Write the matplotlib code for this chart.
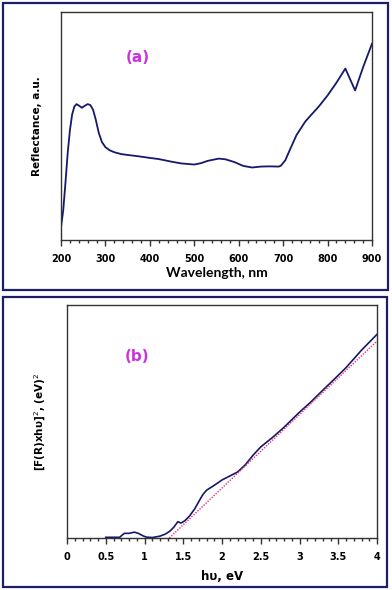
import matplotlib
matplotlib.use("Agg")
import matplotlib.pyplot as plt
from matplotlib.patches import Rectangle
from matplotlib.ticker import MultipleLocator
from matplotlib.font_manager import FontProperties

# panel (a): reflectance spectrum
wavelength = [200, 205, 210, 215, 220, 225, 230, 235, 240, 247, 253, 260, 266,
              272, 278, 285, 292, 300, 310, 320, 335, 350, 375, 400, 420, 450,
              470, 500, 515, 530, 555, 570, 590, 610, 630, 650, 670, 690, 695,
              705, 715, 730, 750, 760, 780, 800, 820, 840, 862, 880, 900]
reflectance = [0.056, 0.13, 0.25, 0.38, 0.48, 0.55, 0.585, 0.596, 0.59, 0.58,
               0.588, 0.596, 0.592, 0.572, 0.53, 0.47, 0.43, 0.407, 0.393,
               0.385, 0.377, 0.373, 0.367, 0.36, 0.355, 0.343, 0.336, 0.331,
               0.337, 0.347, 0.357, 0.354, 0.342, 0.325, 0.318, 0.322, 0.323,
               0.322, 0.326, 0.35, 0.395, 0.46, 0.52, 0.542, 0.585, 0.634,
               0.69, 0.752, 0.656, 0.758, 0.861]

# panel (b): Kubelka-Munk plot
energy = [0.5, 0.68, 0.71, 0.74, 0.8, 0.87, 0.92, 0.97, 1.02, 1.1, 1.2, 1.27,
          1.33, 1.38, 1.43, 1.47, 1.52, 1.58, 1.65, 1.7, 1.75, 1.8, 1.9, 2.0,
          2.1, 2.2, 2.3, 2.4, 2.5, 2.65, 2.8, 3.0, 3.15, 3.3, 3.45, 3.6, 3.8,
          4.0]
km = [0.003, 0.003, 0.012, 0.02, 0.02, 0.025, 0.02, 0.011, 0.004, 0.002,
      0.008, 0.017, 0.03, 0.047, 0.07, 0.064, 0.074, 0.094, 0.126, 0.156,
      0.185, 0.205, 0.226, 0.249, 0.266, 0.283, 0.314, 0.355, 0.391, 0.431,
      0.475, 0.54, 0.585, 0.634, 0.682, 0.731, 0.806, 0.874]
fit_x = [1.32, 4.0]
fit_y = [0.0, 0.845]

W, H = 392, 590
navy = "#1c1f66"
line_col = "#16186a"

fig = plt.figure(figsize=(W / 100, H / 100), dpi=100)


def rect(x0, y0, x1, y1):
    # pixel box (top-left origin) -> figure fraction
    return [x0 / W, 1 - y1 / H, (x1 - x0) / W, (y1 - y0) / H]


# panel frames
for (x0, y0, x1, y1) in [(3, 3, 388, 290), (3, 297, 387, 587)]:
    fig.patches.append(Rectangle((x0 / W, 1 - y1 / H), (x1 - x0) / W, (y1 - y0) / H,
                                 transform=fig.transFigure, fill=False,
                                 edgecolor=navy, linewidth=1.6))

tick_font = FontProperties(family="DejaVu Sans", weight="bold", size=7)


def style(ax):
    for s in ax.spines.values():
        s.set_color("#333333")
        s.set_linewidth(1.0)
    ax.set_yticks([])
    ax.tick_params(axis="x", which="major", direction="out", length=4, width=1,
                   color="#333333", pad=6)
    ax.tick_params(axis="x", which="minor", direction="out", length=2, width=1,
                   color="#333333")
    for lab in ax.get_xticklabels():
        lab.set_fontproperties(tick_font)


# ---- (a)
ax1 = fig.add_axes(rect(61, 12, 372, 240))
ax1.plot(wavelength, reflectance, color=line_col, linewidth=1.3)
ax1.set_xlim(200, 900)
ax1.set_ylim(0, 1)
ax1.xaxis.set_major_locator(MultipleLocator(100))
ax1.xaxis.set_minor_locator(MultipleLocator(20))
style(ax1)
ax1.set_xlabel("Wavelength, nm", family="Lato", weight="bold", size=10, labelpad=2)
ax1.set_ylabel("Reflectance, a.u.", family="DejaVu Sans", weight="bold", size=7.5, labelpad=14)
ax1.text(374, 0.80, "(a)", color="#cc33dd", family="DejaVu Sans", weight="bold",
         size=11, ha="center", va="center")

# ---- (b)
ax2 = fig.add_axes(rect(67, 305, 377, 538))
ax2.plot(energy, km, color=line_col, linewidth=1.2)
ax2.plot(fit_x, fit_y, color="#e8307a", linewidth=1.0, linestyle=(0, (1, 1)))
ax2.set_xlim(0, 4)
ax2.set_ylim(0, 1)
ax2.set_xticks([0, 0.5, 1, 1.5, 2, 2.5, 3, 3.5, 4])
ax2.set_xticklabels(["0", "0.5", "1", "1.5", "2", "2.5", "3", "3.5", "4"])
ax2.xaxis.set_minor_locator(MultipleLocator(0.1))
style(ax2)
ax2.set_xlabel("hυ, eV", family="DejaVu Sans", weight="bold", size=8.5, labelpad=6)
ax2.set_ylabel("[F(R)xhυ]$^{2}$, (eV)$^{2}$", family="DejaVu Sans", weight="bold",
               size=7.5, labelpad=14)
ax2.text(0.9, 0.78, "(b)", color="#cc33dd", family="DejaVu Sans", weight="bold",
         size=11, ha="center", va="center")

fig.savefig("out.png", dpi=100)
